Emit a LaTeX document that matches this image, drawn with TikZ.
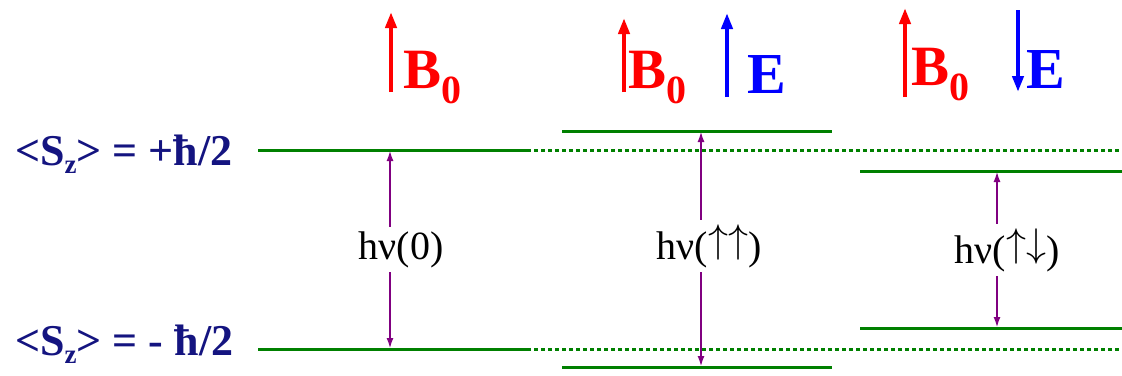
\documentclass[tikz,border=0pt]{standalone}
\usepackage{fix-cm}
\usepackage{fontspec}
\setmainfont{Liberation Serif}
\usetikzlibrary{arrows.meta}
\definecolor{lvl}{RGB}{0,128,0}
\definecolor{trans}{RGB}{128,0,128}
\definecolor{navyt}{RGB}{20,20,128}
\newcommand{\upar}{\raisebox{0.17em}{$\uparrow$}}
\newcommand{\dnar}{\raisebox{0.17em}{$\downarrow$}}
\newcommand{\szsub}{\raisebox{-8pt}{\fontsize{27}{27}\selectfont z}}
\newcommand{\bsub}{\raisebox{-15pt}{\fontsize{40}{40}\selectfont 0}}
\begin{document}
\begin{tikzpicture}[x=1pt,y=-1pt,
  level/.style={draw=lvl, line width=3pt},
  ext/.style={draw=lvl, line width=3pt, dash pattern=on 4pt off 3pt},
  transarrow/.style={draw=trans, line width=2.2pt, {Latex[length=11pt,width=7pt]}-{Latex[length=11pt,width=7pt]}},
  bfield/.style={draw=red, line width=4pt, -{Triangle[length=16pt,width=11pt]}},
  efield/.style={draw=blue, line width=4pt, -{Triangle[length=16pt,width=11pt]}},
  sztext/.style={anchor=base west, inner sep=0pt, text=navyt, font=\fontsize{44}{44}\selectfont\bfseries},
  btext/.style={anchor=base west, inner sep=0pt, text=red, font=\fontsize{57}{57}\selectfont\bfseries},
  etext/.style={anchor=base west, inner sep=0pt, text=blue, font=\fontsize{58}{58}\selectfont\bfseries},
  hvtext/.style={anchor=base, fill=white, inner sep=4pt, font=\fontsize{40}{40}\selectfont}
]
\useasboundingbox (0,0) rectangle (1122,375);

% level coordinates
\coordinate (u0a) at (258,150); \coordinate (u0b) at (527,150); \coordinate (u0c) at (1122,150);
\coordinate (d0a) at (258,349); \coordinate (d0b) at (527,349); \coordinate (d0c) at (1122,349);
\coordinate (u1a) at (562,131); \coordinate (u1b) at (832,131);
\coordinate (d1a) at (562,367); \coordinate (d1b) at (832,367);
\coordinate (u2a) at (860,171); \coordinate (u2b) at (1122,171);
\coordinate (d2a) at (860,328); \coordinate (d2b) at (1122,328);

\draw[level] (u0a) -- (u0b);
\draw[ext] (u0b) -- (u0c);
\draw[level] (d0a) -- (d0b);
\draw[ext] (d0b) -- (d0c);
\draw[level] (u1a) -- (u1b);
\draw[level] (d1a) -- (d1b);
\draw[level] (u2a) -- (u2b);
\draw[level] (d2a) -- (d2b);

% transition arrows
\coordinate (t0u) at (390,150); \coordinate (t0d) at (390,349);
\coordinate (t1u) at (701,131); \coordinate (t1d) at (701,367);
\coordinate (t2u) at (997,171); \coordinate (t2d) at (997,328);
\draw[transarrow] (t0u) -- (t0d);
\draw[transarrow] (t1u) -- (t1d);
\draw[transarrow] (t2u) -- (t2d);

\node[hvtext] (h0) at (401,259) {hν(0)};
\node[hvtext] (h1) at (709,259) {hν(\upar\upar)};
\node[hvtext] (h2) at (1007,263) {hν(\upar\dnar)};

% left labels
\node[sztext] (szu) at (15,165) {<S\szsub> = +ħ/2};
\node[sztext] (szd) at (15,355) {<S\szsub> = - ħ/2};

% field arrows
\coordinate (b0s) at (391,92); \coordinate (b0e) at (391,12);
\coordinate (b1s) at (624,92); \coordinate (b1e) at (624,18);
\coordinate (e1s) at (727,97); \coordinate (e1e) at (727,13);
\coordinate (b2s) at (905,97); \coordinate (b2e) at (905,8);
\coordinate (e2s) at (1018,10); \coordinate (e2e) at (1018,92);
\draw[bfield] (b0s) -- (b0e);
\draw[bfield] (b1s) -- (b1e);
\draw[efield] (e1s) -- (e1e);
\draw[bfield] (b2s) -- (b2e);
\draw[efield] (e2s) -- (e2e);

\node[btext] (B0) at (403,88) {B\bsub};
\node[btext] (B1) at (628,88) {B\bsub};
\node[etext] (E1) at (747,93) {E};
\node[btext] (B2) at (911,85) {B\bsub};
\node[etext] (E2) at (1026,88) {E};
\end{tikzpicture}
\end{document}
